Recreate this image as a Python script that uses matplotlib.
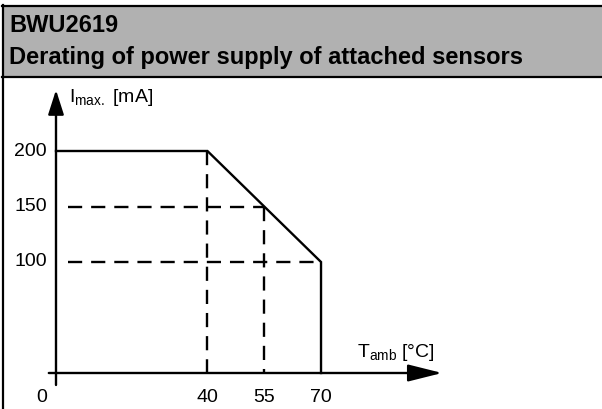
import matplotlib
matplotlib.use("Agg")
import matplotlib.pyplot as plt
from matplotlib.patches import Rectangle
from matplotlib.lines import Line2D

plt.rcParams['font.family'] = ['Liberation Sans', 'DejaVu Sans']
plt.rcParams['mathtext.fontset'] = 'custom'
plt.rcParams['mathtext.rm'] = 'Liberation Sans'
plt.rcParams['mathtext.it'] = 'Liberation Sans'

# derating curve
t_amb = [0, 40, 70, 70]
i_max = [200, 200, 100, 0]

# guide lines (dashed)
guide_t = [40, 55]
guide_i = [150, 100]
guide_end_t = [55, 70]      # where the horizontal guides meet the curve
guide_top_i = [200, 150]    # where the vertical guides meet the curve

y_ticks = [200, 150, 100]
x_ticks = [40, 55, 70]

title1 = "BWU2619"
title2 = "Derating of power supply of attached sensors"

W, H = 602, 409
fig = plt.figure(figsize=(W / 100, H / 100), dpi=100)
fig.patch.set_facecolor('white')

# axes covering the whole figure; pixel mapping: x0=56px, 3.786 px/degC ; y0=373px from top, 1.11 px/mA
px_x = 3.786
px_y = 1.11
ax = fig.add_axes([0, 0, 1, 1])
ax.set_xlim(-56 / px_x, (W - 56) / px_x)
ax.set_ylim(-(H - 373) / px_y, 373 / px_y)
ax.axis('off')


def fx(px):
    return px / W


def fy(py):
    return 1 - py / H


# header box
fig.patches.append(Rectangle((fx(3), fy(77)), 1, fy(6) - fy(77), transform=fig.transFigure,
                             facecolor='#b1b1b1', edgecolor='none', zorder=1))
for l in [Line2D([fx(2), 1], [fy(6), fy(6)]),
          Line2D([fx(2), 1], [fy(77), fy(77)]),
          Line2D([fx(3), fx(3)], [fy(5), 0])]:
    l.set_transform(fig.transFigure)
    l.set_color('black')
    l.set_linewidth(1.6)
    l.set_zorder(2)
    fig.lines.append(l)

fig.text(fx(9), fy(32), title1, fontsize=17, fontweight='bold', va='baseline', ha='left')
fig.text(fx(9), fy(64), title2, fontsize=17, fontweight='bold', va='baseline', ha='left')

lw = 1.7

# axes arrows
ax.annotate('', xy=(102, 0), xytext=(-1.9, 0),
            arrowprops=dict(arrowstyle='-|>,head_length=1.4,head_width=0.35', mutation_scale=15,
                            lw=lw, color='black', shrinkA=0, shrinkB=0))
ax.annotate('', xy=(0, 255), xytext=(0, -10.8),
            arrowprops=dict(arrowstyle='-|>,head_length=1.0,head_width=0.32', mutation_scale=15,
                            lw=lw, color='black', shrinkA=0, shrinkB=0))

dash = (0, (6, 3.8))
for yv, xe in zip(guide_i, guide_end_t):
    ax.plot([3.2, xe], [yv, yv], color='black', lw=lw, linestyle=dash)
for xv, yt in zip(guide_t, guide_top_i):
    ax.plot([xv, xv], [yt, 0], color='black', lw=lw, linestyle=dash)

ax.plot(t_amb, i_max, color='black', lw=lw, solid_joinstyle='miter')

for yv in y_ticks:
    ax.text(-2.4, yv, str(yv), fontsize=14, ha='right', va='center')
for xv in x_ticks:
    ax.text(xv, -22.5, str(xv), fontsize=14, ha='center', va='center')
ax.text(-3.7, -22.5, "0", fontsize=14, ha='center', va='center')

ax.text(3.4, 248, r'I$_{\mathrm{max.}}$ [mA]', fontsize=14, ha='left', va='center')
ax.text(79.5, 14.5, r'T$_{\mathrm{amb}}$ [°C]', fontsize=14, ha='left', va='baseline')

fig.savefig('out.png', dpi=100)
